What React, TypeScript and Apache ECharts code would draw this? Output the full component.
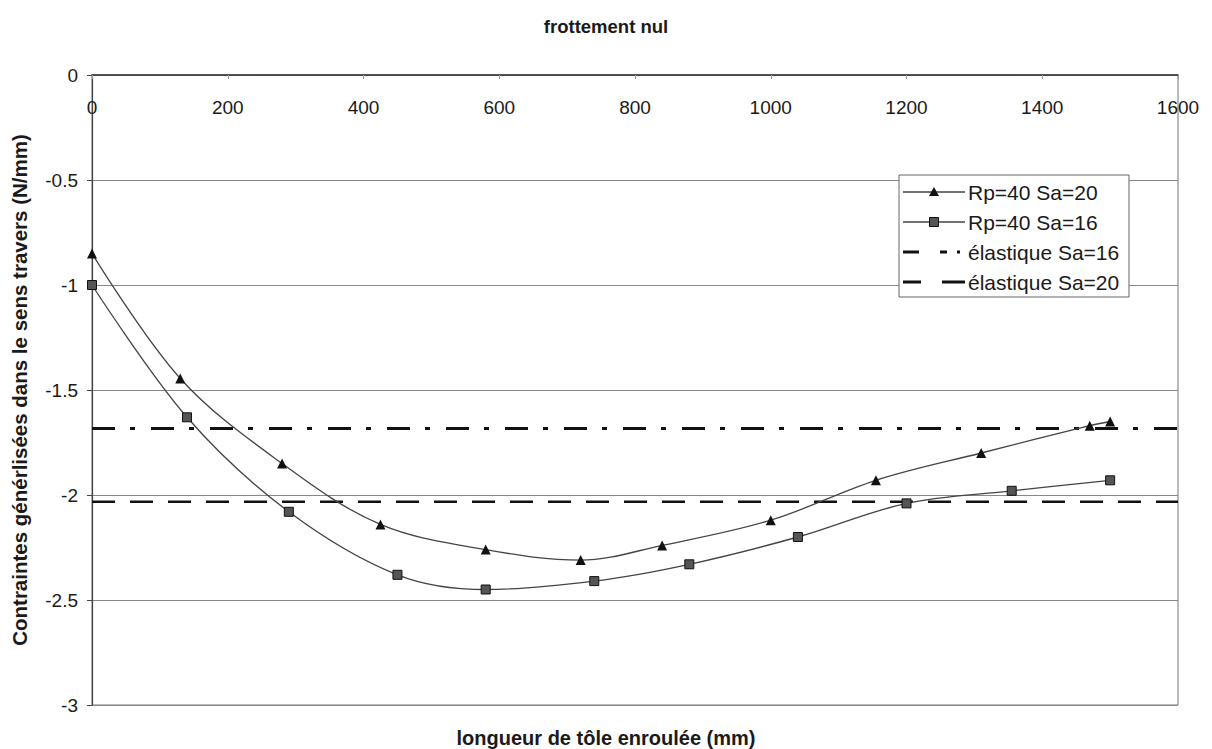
import React, { useEffect, useRef } from "react";
import * as echarts from "echarts";

const titleText = "frottement nul";
const xAxisTitle = "longueur de tôle enroulée (mm)";
const yAxisTitle = "Contraintes générlisées dans le sens travers (N/mm)";

const seriesNames = ["Rp=40 Sa=20", "Rp=40 Sa=16", "élastique Sa=16", "élastique Sa=20"];

const xSa20 = [0, 130, 280, 425, 580, 720, 840, 1000, 1155, 1310, 1470, 1500];
const ySa20 = [-0.85, -1.445, -1.85, -2.14, -2.26, -2.31, -2.24, -2.12, -1.93, -1.8, -1.67, -1.65];

const xSa16 = [0, 140, 290, 450, 580, 740, 880, 1040, 1200, 1355, 1500];
const ySa16 = [-1.0, -1.63, -2.08, -2.38, -2.45, -2.41, -2.33, -2.2, -2.04, -1.98, -1.93];

const elasticX = [0, 1600];
const elasticSa16 = -1.683;
const elasticSa20 = -2.032;

const FONT = "'Liberation Sans', Arial, sans-serif";
const DASHDOT = [23, 15, 5, 16];
const DASH = [23, 15];

export default function App() {
  const ref = useRef<HTMLDivElement>(null);
  useEffect(() => {
    if (!ref.current) return;
    const chart = echarts.init(ref.current, null, { renderer: "svg" });
    const pair = (xs: number[], ys: number[]) => xs.map((x, i) => [x, ys[i]]);

    // manual legend (box + symbols + texts)
    const lx = 899;
    const ly = 175;
    const rowsY = [192, 222, 252, 282];
    const symX1 = 903;
    const symX2 = 965;
    const symMid = 934;
    const legendEls: any[] = [
      {
        type: "rect",
        shape: { x: lx, y: ly, width: 230, height: 122 },
        style: { fill: "#fff", stroke: "#666", lineWidth: 1 },
        z: 10,
      },
    ];
    legendEls.push({
      type: "line",
      shape: { x1: symX1, y1: rowsY[0], x2: symX2, y2: rowsY[0] },
      style: { stroke: "#444", lineWidth: 1.3 },
      z: 11,
    });
    legendEls.push({
      type: "polygon",
      shape: { points: [[symMid, rowsY[0] - 5], [symMid - 5, rowsY[0] + 4], [symMid + 5, rowsY[0] + 4]] },
      style: { fill: "#111" },
      z: 12,
    });
    legendEls.push({
      type: "line",
      shape: { x1: symX1, y1: rowsY[1], x2: symX2, y2: rowsY[1] },
      style: { stroke: "#444", lineWidth: 1.3 },
      z: 11,
    });
    legendEls.push({
      type: "rect",
      shape: { x: symMid - 4.5, y: rowsY[1] - 4.5, width: 9, height: 9 },
      style: { fill: "#555", stroke: "#111", lineWidth: 1 },
      z: 12,
    });
    legendEls.push({
      type: "line",
      shape: { x1: symX1, y1: rowsY[2], x2: symX2, y2: rowsY[2] },
      style: { stroke: "#111", lineWidth: 3, lineDash: [16, 21, 7, 10, 3, 100] },
      z: 11,
    });
    legendEls.push({
      type: "line",
      shape: { x1: symX1, y1: rowsY[3], x2: symX2, y2: rowsY[3] },
      style: { stroke: "#111", lineWidth: 3, lineDash: [18, 21, 30] },
      z: 11,
    });
    seriesNames.forEach((name, i) => {
      legendEls.push({
        type: "text",
        x: 968,
        y: rowsY[i],
        style: {
          text: name,
          fontFamily: FONT,
          fontSize: 21,
          fill: "#1a1a1a",
          align: "left",
          verticalAlign: "middle",
        },
        z: 12,
      });
    });
    legendEls.push({
      type: "text",
      x: 606,
      y: 738,
      style: {
        text: xAxisTitle,
        fontFamily: FONT,
        fontSize: 20,
        fontWeight: "bold",
        fill: "#1a1a1a",
        align: "center",
        verticalAlign: "middle",
      },
      z: 12,
    });

    chart.setOption({
      animation: false,
      backgroundColor: "#ffffff",
      textStyle: { fontFamily: FONT },
      title: {
        text: titleText,
        left: "center",
        top: 12,
        textStyle: { fontFamily: FONT, fontSize: 18.5, fontWeight: "bold", color: "#1a1a1a" },
      },
      grid: {
        left: 92,
        top: 75,
        right: 34,
        bottom: 44,
        show: true,
        borderColor: "#777",
        borderWidth: 1,
        backgroundColor: "transparent",
      },
      graphic: legendEls,
      xAxis: {
        type: "value",
        min: 0,
        max: 1600,
        interval: 200,
        position: "top",
        axisLine: { onZero: false, lineStyle: { color: "#333", width: 1.5 } },
        axisTick: { show: true, inside: true, length: 4, lineStyle: { color: "#999" } },
        axisLabel: {
          inside: true,
          margin: 23,
          fontFamily: FONT,
          fontSize: 19,
          color: "#1a1a1a",
          formatter: (v: number) => String(v),
        },
        splitLine: { show: false },
      },
      yAxis: {
        type: "value",
        min: -3,
        max: 0,
        interval: 0.5,
        name: yAxisTitle,
        nameLocation: "middle",
        nameGap: 62,
        nameRotate: 90,
        nameTextStyle: { fontFamily: FONT, fontSize: 20.5, fontWeight: "bold", color: "#1a1a1a" },
        axisLine: { show: true, lineStyle: { color: "#444", width: 1.2 } },
        axisTick: { show: true, length: 5, lineStyle: { color: "#444" } },
        axisLabel: {
          margin: 14,
          fontFamily: FONT,
          fontSize: 19,
          color: "#1a1a1a",
          formatter: (v: number) => String(v),
        },
        splitLine: { show: true, lineStyle: { color: "#888", width: 1 } },
      },
      series: [
        {
          name: seriesNames[0],
          type: "line",
          data: pair(xSa20, ySa20),
          smooth: 0.35,
          symbol: "triangle",
          symbolSize: 10,
          itemStyle: { color: "#111" },
          lineStyle: { color: "#444", width: 1.3 },
          z: 4,
        },
        {
          name: seriesNames[1],
          type: "line",
          data: pair(xSa16, ySa16),
          smooth: 0.35,
          symbol: "rect",
          symbolSize: 9,
          itemStyle: { color: "#555", borderColor: "#111", borderWidth: 1 },
          lineStyle: { color: "#444", width: 1.3 },
          z: 4,
        },
        {
          name: seriesNames[2],
          type: "line",
          data: elasticX.map((x) => [x, elasticSa16]),
          symbol: "none",
          lineStyle: { color: "#111", width: 3, type: DASHDOT },
          z: 3,
        },
        {
          name: seriesNames[3],
          type: "line",
          data: elasticX.map((x) => [x, elasticSa20]),
          symbol: "none",
          lineStyle: { color: "#111", width: 2.5, type: DASH },
          z: 3,
        },
      ],
    });
    return () => chart.dispose();
  }, []);
  return (
    <div
      ref={ref}
      style={{ position: "fixed", left: 0, top: 0, width: 1212, height: 749, background: "#fff" }}
    />
  );
}
